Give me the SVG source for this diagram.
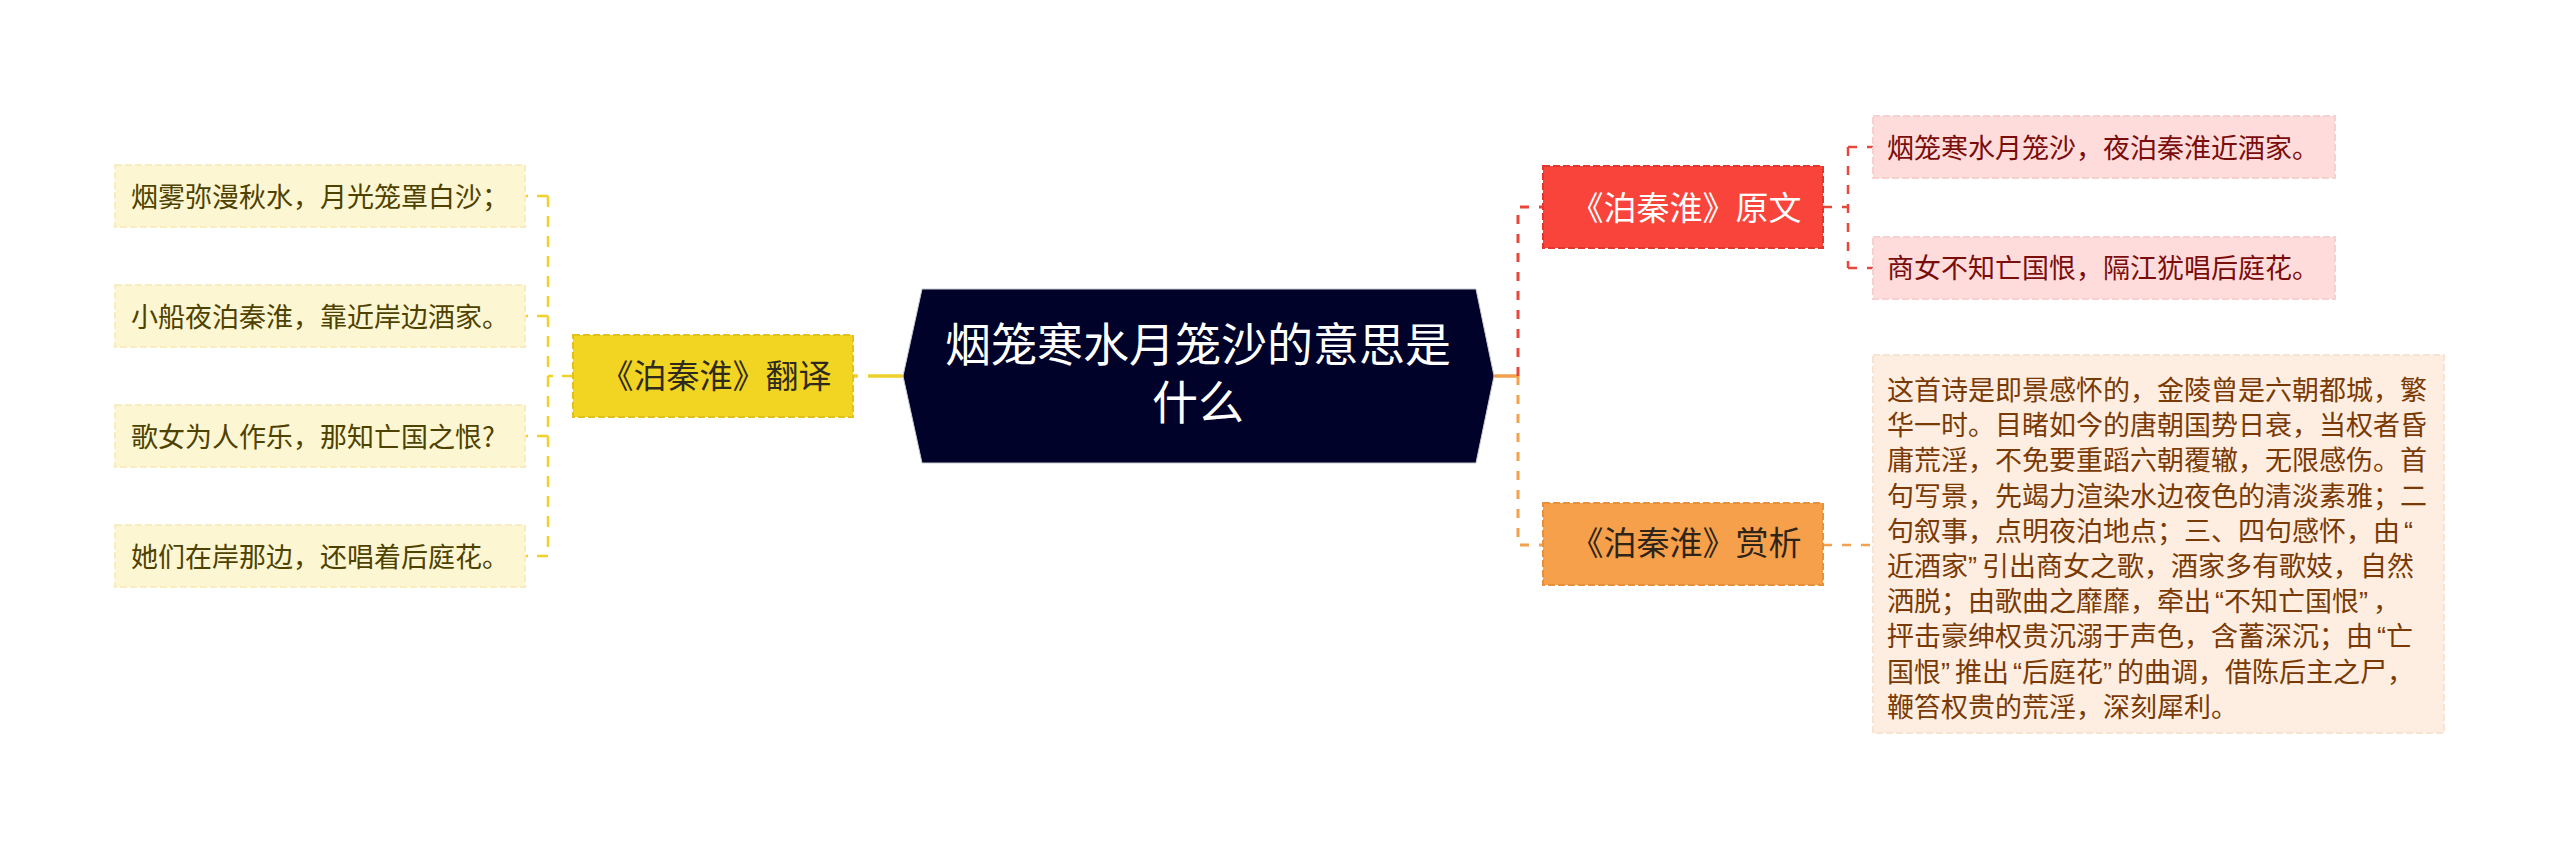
<svg xmlns="http://www.w3.org/2000/svg" width="2560" height="849" viewBox="0 0 2560 849">
<style>
text{font-family:"Noto Sans CJK SC","Noto Sans",sans-serif;}
.leaf{font-size:27px;}
.main{font-size:33px;text-anchor:middle;}
.q{font-family:"Liberation Sans",sans-serif;}
.qc{font-family:"Liberation Sans",sans-serif;letter-spacing:5px;}
.cy{fill:none;stroke:#f0d02a;stroke-width:2.5;stroke-dasharray:11 9;}
.cr{fill:none;stroke:#e8473c;stroke-width:3;stroke-dasharray:9 10;}
.co{fill:none;stroke:#f2a24e;stroke-width:3;stroke-dasharray:9 10;}
.bd{stroke-width:2;stroke-dasharray:7 3;}
</style>
<rect width="2560" height="849" fill="#ffffff"/>
<g id="connectors">
  <path d="M903 376 H853" fill="none" stroke="#f0d02a" stroke-width="3.5" stroke-dasharray="35 10 5 100"/>
  <path class="cy" d="M573 376 H548"/>
  <path class="cy" d="M548 196 V556"/>
  <path class="cy" d="M548 196 H525"/>
  <path class="cy" d="M548 316 H525"/>
  <path class="cy" d="M548 436 H525"/>
  <path class="cy" d="M548 556 H525"/>
  <path d="M1494 376 H1518" fill="none" stroke="#f2a24e" stroke-width="3.5"/>
  <path class="cr" d="M1518 376 V207 H1543"/>
  <path class="cr" style="stroke-width:2.5" d="M1823 207 H1848"/>
  <path class="cr" style="stroke-width:2.5" d="M1848 147 V268"/>
  <path class="cr" style="stroke-width:2.5" d="M1848 147 H1873"/>
  <path class="cr" style="stroke-width:2.5" d="M1848 268 H1873"/>
  <path class="co" d="M1518 376 V545 H1543"/>
  <path class="co" style="stroke-width:2.5" d="M1823 545 H1873"/>
</g>
<g id="root">
  <polygon points="922,289 1476,289 1494,376 1476,463 922,463 903,376" fill="#000229" stroke="#c9cbd4" stroke-width="1"/>
  <text font-size="46" fill="#ffffff" text-anchor="middle"><tspan x="1198" y="361">烟笼寒水月笼沙的意思是</tspan><tspan x="1198" y="419">什么</tspan></text>
</g>
<g id="n-translate">
  <rect class="bd" x="573" y="335" width="280" height="82" fill="#f2d422" stroke="#e2c21a"/>
  <text class="main" x="716" y="388" fill="#2e2a1c">《泊秦淮》翻译</text>
</g>
<g id="t1">
  <rect class="bd" x="115" y="165" width="410" height="62" fill="#fdf6d3" stroke="#f7edbf"/>
  <text class="leaf" x="131" y="207" fill="#4d4200">烟雾弥漫秋水，月光笼罩白沙；</text>
</g>
<g id="t2">
  <rect class="bd" x="115" y="285" width="410" height="62" fill="#fdf6d3" stroke="#f7edbf"/>
  <text class="leaf" x="131" y="327" fill="#4d4200">小船夜泊秦淮，靠近岸边酒家。</text>
</g>
<g id="t3">
  <rect class="bd" x="115" y="405" width="410" height="62" fill="#fdf6d3" stroke="#f7edbf"/>
  <text class="leaf" x="131" y="447" fill="#4d4200">歌女为人作乐，那知亡国之恨?</text>
</g>
<g id="t4">
  <rect class="bd" x="115" y="525" width="410" height="62" fill="#fdf6d3" stroke="#f7edbf"/>
  <text class="leaf" x="131" y="567" fill="#4d4200">她们在岸那边，还唱着后庭花。</text>
</g>
<g id="n-original">
  <rect class="bd" x="1543" y="166" width="280" height="82" fill="#f8443b" stroke="#e2362e"/>
  <text class="main" x="1686" y="220" fill="#ffffff">《泊秦淮》原文</text>
</g>
<g id="o1">
  <rect class="bd" x="1873" y="116" width="462" height="62" fill="#fddcdb" stroke="#f8d0cf"/>
  <text class="leaf" x="1887" y="158" fill="#7a0c0c">烟笼寒水月笼沙，夜泊秦淮近酒家。</text>
</g>
<g id="o2">
  <rect class="bd" x="1873" y="237" width="462" height="62" fill="#fddcdb" stroke="#f8d0cf"/>
  <text class="leaf" x="1887" y="278" fill="#7a0c0c">商女不知亡国恨，隔江犹唱后庭花。</text>
</g>
<g id="n-appreciation">
  <rect class="bd" x="1543" y="503" width="280" height="82" fill="#f6a04b" stroke="#e8913c"/>
  <text class="main" x="1686" y="555" fill="#2e2418">《泊秦淮》赏析</text>
</g>
<g id="a1">
  <rect class="bd" x="1873" y="355" width="571" height="378" fill="#fdeee1" stroke="#f8e4d2"/>
  <text class="leaf" fill="#7a3a05">
    <tspan x="1887" y="400">这首诗是即景感怀的，金陵曾是六朝都城，繁</tspan>
    <tspan x="1887" y="435.2">华一时。目睹如今的唐朝国势日衰，当权者昏</tspan>
    <tspan x="1887" y="470.4">庸荒淫，不免要重蹈六朝覆辙，无限感伤。首</tspan>
    <tspan x="1887" y="505.6">句写景，先竭力渲染水边夜色的清淡素雅；二</tspan>
    <tspan x="1887" y="540.8">句叙事，点明夜泊地点；三、四句感怀，由<tspan class="q" dx="4">“</tspan></tspan>
    <tspan x="1887" y="576">近酒家<tspan class="qc">”</tspan>引出商女之歌，酒家多有歌妓，自然</tspan>
    <tspan x="1887" y="611.2">洒脱；由歌曲之靡靡，牵出<tspan class="q" dx="4">“</tspan>不知亡国恨<tspan class="qc">”</tspan>，</tspan>
    <tspan x="1887" y="646.4">抨击豪绅权贵沉溺于声色，含蓄深沉；由<tspan class="q" dx="4">“</tspan>亡</tspan>
    <tspan x="1887" y="681.6">国恨<tspan class="qc">”</tspan>推出<tspan class="q" dx="4">“</tspan>后庭花<tspan class="qc">”</tspan>的曲调，借陈后主之尸，</tspan>
    <tspan x="1887" y="716.8">鞭笞权贵的荒淫，深刻犀利。</tspan>
  </text>
</g>
</svg>
